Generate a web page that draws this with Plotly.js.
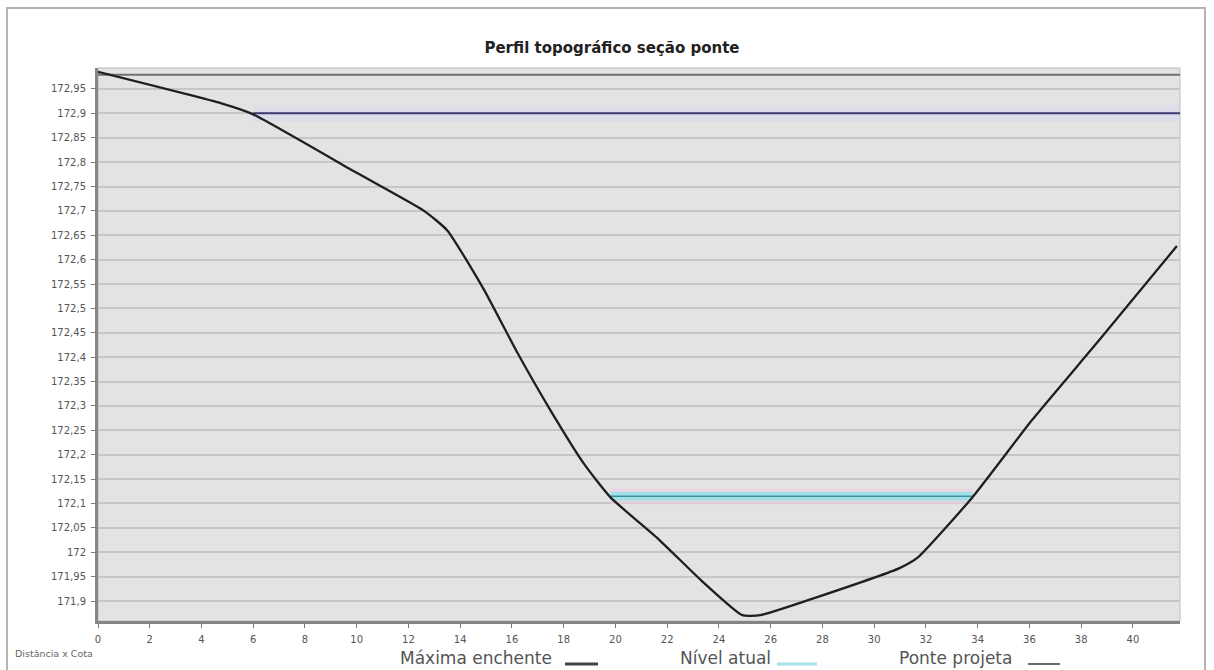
<!DOCTYPE html>
<html>
<head>
<meta charset="utf-8">
<script src="https://cdn.plot.ly/plotly-3.0.1.min.js"></script>
<style>
html,body{margin:0;padding:0;background:#fff;}
#frame{position:absolute;left:6px;top:7px;width:1200px;height:680px;border:2px solid #b4b4b4;box-sizing:border-box;}
#chart{position:absolute;left:0;top:0;width:1214px;height:670px;}
</style>
</head>
<body>
<div id="frame"></div>
<div id="chart"></div>
<script>
// ---- data ----
const distancia = [0, 4.8, 6.0, 10.0, 12.6, 13.5, 14.9, 16.2, 17.5, 18.8, 19.8, 21.7, 23.3, 24.9, 25.6, 27.8, 31.0, 31.7, 33.8, 36.1, 38.7, 41.7];
const cota      = [172.985, 172.92, 172.898, 172.778, 172.70, 172.66, 172.54, 172.41, 172.29, 172.18, 172.113, 172.025, 171.943, 171.871, 171.871, 171.908, 171.968, 171.99, 172.113, 172.271, 172.435, 172.628];

const maximaEnchente = 172.9;   const maximaX = [6.0, 41.82];
const nivelAtual     = 172.115; const nivelX  = [19.8, 33.8];
const ponteProjeta   = 172.979; const ponteX  = [0, 41.82];

const xTickVals = [0,2,4,6,8,10,12,14,16,18,20,22,24,26,28,30,32,34,36,38,40];
const xTickText = ['0','2','4','6','8','10','12','14','16','18','20','22','24','26','28','30','32','34','36','38','40'];
const yTickVals = [171.9,171.95,172,172.05,172.1,172.15,172.2,172.25,172.3,172.35,172.4,172.45,172.5,172.55,172.6,172.65,172.7,172.75,172.8,172.85,172.9,172.95];
const yTickText = ['171,9','171,95','172','172,05','172,1','172,15','172,2','172,25','172,3','172,35','172,4','172,45','172,5','172,55','172,6','172,65','172,7','172,75','172,8','172,85','172,9','172,95'];

const titulo = 'Perfil topográfico seção ponte';
const legendas = ['Máxima enchente', 'Nível atual', 'Ponte projeta'];
const eixoRotulo = 'Distância x Cota';

// ---- traces ----
const traces = [
  {x: maximaX, y: [maximaEnchente, maximaEnchente], mode:'lines', line:{color:'rgba(210,210,245,0.35)', width:16}, hoverinfo:'skip'},
  {x: nivelX, y: [nivelAtual, nivelAtual], mode:'lines', line:{color:'rgba(240,205,225,0.55)', width:16}, hoverinfo:'skip'},
  {x: nivelX, y: [nivelAtual, nivelAtual], mode:'lines', line:{color:'#a2e0ea', width:9}, hoverinfo:'skip'},
  {x: nivelX, y: [nivelAtual, nivelAtual], mode:'lines', line:{color:'#3f8f97', width:1.5}, name: legendas[1]},
  {x: maximaX, y: [maximaEnchente, maximaEnchente], mode:'lines', line:{color:'#3c3c72', width:2}, name: legendas[0]},
  {x: ponteX, y: [ponteProjeta, ponteProjeta], mode:'lines', line:{color:'#707070', width:2}, name: legendas[2]},
  {x: distancia, y: cota, mode:'lines', line:{color:'#1f1f1f', width:2.3, shape:'spline', smoothing:0.5}, name:'Perfil'}
];

const L = 98, R = 1180, T = 68, B = 621;
const px = v => (v - L) / (R - L);
const py = v => (B - v) / (B - T);

const legFont = {family:'DejaVu Sans', size:17, color:'#555'};
const annotations = [
  {text: legendas[0], xref:'paper', yref:'paper', x:px(398), y:py(658), xanchor:'left', yanchor:'middle', showarrow:false, font:legFont},
  {text: legendas[1], xref:'paper', yref:'paper', x:px(678), y:py(658), xanchor:'left', yanchor:'middle', showarrow:false, font:legFont},
  {text: legendas[2], xref:'paper', yref:'paper', x:px(897), y:py(658), xanchor:'left', yanchor:'middle', showarrow:false, font:legFont},
  {text: eixoRotulo, xref:'paper', yref:'paper', x:px(13), y:py(653), xanchor:'left', yanchor:'middle', showarrow:false, font:{family:'DejaVu Sans', size:9.5, color:'#666'}}
];
const shapes = [
  {type:'rect', xref:'paper', yref:'paper', x0:0, x1:1, y0:0, y1:1, line:{color:'#bdbdbd', width:1}, layer:'below'},
  {type:'line', xref:'paper', yref:'paper', x0:px(565), x1:px(598), y0:py(664), y1:py(664), line:{color:'#444', width:3}},
  {type:'line', xref:'paper', yref:'paper', x0:px(777), x1:px(817), y0:py(664), y1:py(664), line:{color:'#a6e2ea', width:3}},
  {type:'line', xref:'paper', yref:'paper', x0:px(1028), x1:px(1060), y0:py(664), y1:py(664), line:{color:'#6a6a6a', width:2}}
];

const layout = {
  width:1214, height:670,
  margin:{l:L, r:1214-R, t:T, b:670-B, pad:0},
  paper_bgcolor:'rgba(0,0,0,0)',
  plot_bgcolor:'#e3e3e3',
  showlegend:false,
  separators:',.',
  title:{text:titulo, xref:'container', yref:'container', x:612/1214, y:1-48/670, xanchor:'center', yanchor:'middle',
         font:{family:'DejaVu Sans', size:15, color:'#222', weight:'bold'}},
  xaxis:{range:[0,41.82], tickmode:'array', tickvals:xTickVals, ticktext:xTickText,
         showgrid:false, zeroline:false, showline:true, linecolor:'#858585', linewidth:3,
         ticks:'outside', ticklen:4, tickcolor:'#777', tickwidth:1, ticklabelstandoff:3,
         tickfont:{family:'DejaVu Sans', size:10, color:'#555'}},
  yaxis:{range:[171.859,172.993], tickmode:'array', tickvals:yTickVals, ticktext:yTickText,
         showgrid:true, gridcolor:'#c6c6c6', gridwidth:2, zeroline:false, showline:true, linecolor:'#858585', linewidth:3,
         ticks:'outside', ticklen:4, tickcolor:'#777', tickwidth:1, ticklabelstandoff:3,
         tickfont:{family:'DejaVu Sans', size:10, color:'#555'}},
  annotations: annotations,
  shapes: shapes
};

Plotly.newPlot('chart', traces, layout, {staticPlot:true, displayModeBar:false});
</script>
</body>
</html>
